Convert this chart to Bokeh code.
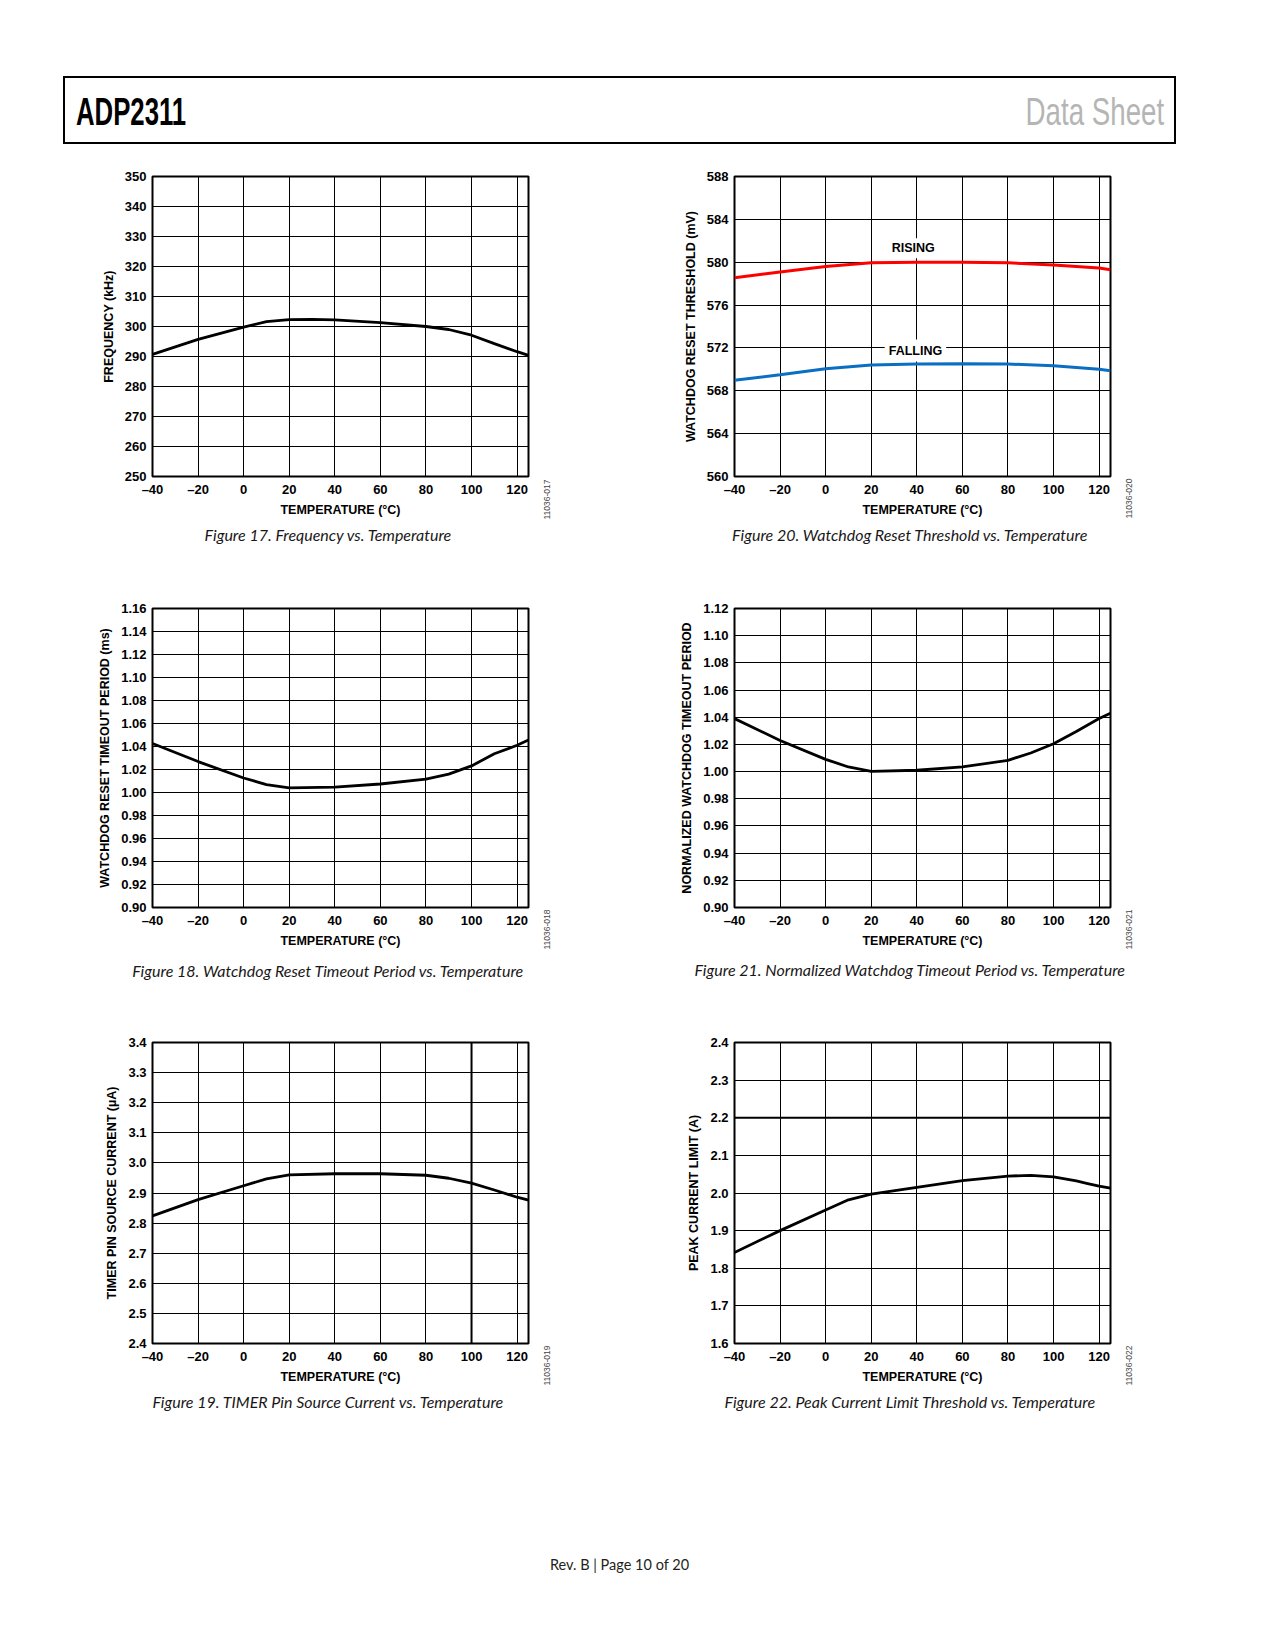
import math
from bokeh.plotting import figure
from bokeh.models import Range1d, FixedTicker, Label, Span, Div
from bokeh.layouts import row, column
from bokeh.embed import file_html
from bokeh.resources import INLINE

# ---------------- data ----------------
x_ticks = [-40, -20, 0, 20, 40, 60, 80, 100, 120]
x_tick_labels = ["\u201340", "\u201320", "0", "20", "40", "60", "80", "100", "120"]

# Figure 17
t17 = [-40, -20, 0, 10, 20, 30, 40, 60, 80, 90, 100, 110, 120, 125]
freq_khz = [290.7, 295.7, 299.8, 301.6, 302.3, 302.4, 302.2, 301.3, 300.0, 299.0, 297.1, 294.3, 291.6, 290.4]
y17_ticks = [250, 260, 270, 280, 290, 300, 310, 320, 330, 340, 350]

# Figure 20
t20 = [-40, -20, 0, 20, 40, 60, 80, 100, 120, 125]
rising_mv = [578.55, 579.08, 579.6, 579.94, 580.0, 580.0, 579.94, 579.75, 579.45, 579.3]
falling_mv = [568.98, 569.5, 570.06, 570.4, 570.5, 570.52, 570.5, 570.34, 570.0, 569.88]
y20_ticks = [560, 564, 568, 572, 576, 580, 584, 588]

# Figure 18
t18 = [-40, -20, 0, 10, 20, 40, 60, 80, 90, 100, 110, 120, 125]
wdt_ms = [1.0426, 1.0269, 1.0126, 1.0069, 1.004, 1.0046, 1.0074, 1.0117, 1.016, 1.0231, 1.0337, 1.0411, 1.0457]
y18_ticks = [0.90, 0.92, 0.94, 0.96, 0.98, 1.00, 1.02, 1.04, 1.06, 1.08, 1.10, 1.12, 1.14, 1.16]

# Figure 21
t21 = [-40, -20, 0, 10, 20, 40, 60, 80, 90, 100, 110, 120, 125]
norm_wdt = [1.039, 1.0229, 1.009, 1.0034, 1.0002, 1.001, 1.0034, 1.0083, 1.0137, 1.0205, 1.0295, 1.039, 1.043]
y21_ticks = [0.90, 0.92, 0.94, 0.96, 0.98, 1.00, 1.02, 1.04, 1.06, 1.08, 1.10, 1.12]

# Figure 19
t19 = [-40, -20, 0, 10, 20, 40, 60, 80, 90, 100, 110, 120, 125]
timer_ua = [2.824, 2.878, 2.924, 2.947, 2.960, 2.964, 2.964, 2.959, 2.949, 2.933, 2.910, 2.886, 2.876]
y19_ticks = [2.4, 2.5, 2.6, 2.7, 2.8, 2.9, 3.0, 3.1, 3.2, 3.3, 3.4]

# Figure 22
t22 = [-40, -20, 0, 10, 20, 40, 60, 80, 90, 100, 110, 115, 120, 125]
ilim_a = [1.842, 1.900, 1.955, 1.982, 1.997, 2.015, 2.033, 2.045, 2.047, 2.043, 2.032, 2.025, 2.018, 2.013]
y22_ticks = [1.6, 1.7, 1.8, 1.9, 2.0, 2.1, 2.2, 2.3, 2.4]

FONT = "Liberation Sans"
CAP_FONT = "Lato"
X0, X1 = -40, 125
FRAME_W = 376


def make_chart(side, height, bt, bb, yticks, ydec, ylabel, caption, code, cap_dy):
    if side == "left":
        width, bl, br = 637, 152, 109
    else:
        width, bl, br = 638, 97, 165
    y0, y1 = yticks[0], yticks[-1]
    frame_h = height - bt - bb
    p = figure(width=width, height=height, x_range=Range1d(X0, X1), y_range=Range1d(y0, y1),
               output_backend="svg", toolbar_location=None,
               min_border_left=bl, min_border_right=br, min_border_top=bt, min_border_bottom=bb)
    p.background_fill_color = "white"
    p.border_fill_color = "white"
    p.outline_line_color = "black"
    p.outline_line_width = 2

    xt = FixedTicker(ticks=x_ticks)
    yt = FixedTicker(ticks=yticks)
    p.xaxis.ticker = xt
    p.yaxis.ticker = yt
    p.xgrid.ticker = xt
    p.ygrid.ticker = yt
    p.grid.grid_line_color = "black"
    p.grid.grid_line_width = 1
    p.grid.grid_line_alpha = 1.0

    p.xaxis.major_label_overrides = {v: s for v, s in zip(x_ticks, x_tick_labels)}
    p.yaxis.major_label_overrides = {v: f"{v:.{ydec}f}" for v in yticks}
    p.xaxis.axis_label = "TEMPERATURE (\u00b0C)"
    p.yaxis.axis_label = ylabel
    for ax in (p.xaxis[0], p.yaxis[0]):
        ax.axis_line_color = None
        ax.major_tick_line_color = None
        ax.minor_tick_line_color = None
        ax.major_tick_out = 0
        ax.major_tick_in = 0
        ax.major_label_text_font = FONT
        ax.major_label_text_font_size = "13px"
        ax.major_label_text_font_style = "bold"
        ax.major_label_text_color = "black"
        ax.axis_label_text_font = FONT
        ax.axis_label_text_font_size = "12.5px"
        ax.axis_label_text_font_style = "bold"
        ax.axis_label_text_color = "black"
    p.xaxis.major_label_standoff = 5
    p.xaxis.axis_label_standoff = 3
    p.yaxis.major_label_standoff = 6
    p.yaxis.axis_label_standoff = 6

    # caption below the chart (canvas coordinates)
    p.add_layout(Label(x=bl + FRAME_W / 2 - 12, y=bt + frame_h + cap_dy, x_units="canvas", y_units="canvas",
                       text=caption, text_align="center", text_baseline="middle",
                       text_font=CAP_FONT, text_font_style="italic", text_font_size="16px",
                       text_color="#1a1718"), "below")
    # small rotated figure code to the right of the x axis
    p.add_layout(Label(x=bl + FRAME_W + 18, y=bt + frame_h + 22, x_units="canvas", y_units="canvas",
                       text=code, angle=math.pi / 2, text_align="center", text_baseline="middle",
                       text_font=FONT, text_font_size="8.5px", text_color="#444444"), "right")
    return p


f17 = make_chart("left", 420, 26, 93, y17_ticks, 0, "FREQUENCY (kHz)",
                 "Figure 17. Frequency vs. Temperature", "11036-017", 57)
f17.line(t17, freq_khz, line_color="black", line_width=2.8)

f20 = make_chart("right", 420, 25, 94, y20_ticks, 0, "WATCHDOG RESET THRESHOLD (mV)",
                 "Figure 20. Watchdog Reset Threshold vs. Temperature", "11036-020", 58)
f20.line(t20, rising_mv, line_color="#ff0000", line_width=3)
f20.line(t20, falling_mv, line_color="#0a6fc2", line_width=3)
f20.add_layout(Label(x=38.4, y=581.3, text="RISING", text_align="center", text_baseline="middle",
                     text_font=FONT, text_font_size="12.5px", text_font_style="bold",
                     text_color="black", background_fill_color="white", padding=3))
f20.add_layout(Label(x=39.4, y=571.75, text="FALLING", text_align="center", text_baseline="middle",
                     text_font=FONT, text_font_size="12.5px", text_font_style="bold",
                     text_color="black", background_fill_color="white", padding=4))

f18 = make_chart("left", 430, 37, 93, y18_ticks, 2, "WATCHDOG RESET TIMEOUT PERIOD (ms)",
                 "Figure 18. Watchdog Reset Timeout Period vs. Temperature", "11036-018", 63)
f18.line(t18, wdt_ms, line_color="black", line_width=2.8)

f21 = make_chart("right", 430, 38, 93, y21_ticks, 2, "NORMALIZED WATCHDOG TIMEOUT PERIOD",
                 "Figure 21. Normalized Watchdog Timeout Period vs. Temperature", "11036-021", 62)
f21.line(t21, norm_wdt, line_color="black", line_width=2.8)

f19 = make_chart("left", 440, 42, 97, y19_ticks, 1, "TIMER PIN SOURCE CURRENT (\u00b5A)",
                 "Figure 19. TIMER Pin Source Current vs. Temperature", "11036-019", 58)
f19.add_layout(Span(location=100, dimension="height", line_color="black", line_width=2))
f19.line(t19, timer_ua, line_color="black", line_width=2.8)

f22 = make_chart("right", 440, 42, 97, y22_ticks, 1, "PEAK CURRENT LIMIT (A)",
                 "Figure 22. Peak Current Limit Threshold vs. Temperature", "11036-022", 58)
f22.add_layout(Span(location=2.2, dimension="width", line_color="black", line_width=2))
f22.line(t22, ilim_a, line_color="black", line_width=2.8)

header_html = (
    '<div style="position:relative;width:1275px;height:150px;">'
    '<div style="position:absolute;left:63px;top:76px;width:1113px;height:68px;'
    'border:2px solid #000;box-sizing:border-box;"></div>'
    '<div style="position:absolute;left:76px;top:92px;font-family:\'Liberation Sans\',sans-serif;'
    'font-weight:bold;font-size:39px;line-height:39px;color:#000;white-space:nowrap;'
    'transform:scaleX(0.66);transform-origin:left top;">ADP2311</div>'
    '<div style="position:absolute;right:111px;top:92px;font-family:\'Liberation Sans\',sans-serif;'
    'font-weight:normal;font-size:39px;line-height:39px;color:#b5b5b5;white-space:nowrap;'
    'transform:scaleX(0.71);transform-origin:right top;">Data Sheet</div>'
    '</div>'
)
header = Div(text=header_html, width=1275, height=150, margin=0)

footer_html = (
    '<div style="position:relative;width:1275px;height:160px;">'
    '<div style="position:absolute;left:0px;top:116px;width:1239px;text-align:center;'
    'font-family:Lato,sans-serif;font-size:14.5px;line-height:18px;color:#231f20;white-space:nowrap;">'
    'Rev. B | Page 10 of 20</div></div>'
)
footer = Div(text=footer_html, width=1275, height=160, margin=0)

layout = column(header, row(f17, f20), row(f18, f21), row(f19, f22), footer)

open("out.html", "w").write(file_html(layout, INLINE))
